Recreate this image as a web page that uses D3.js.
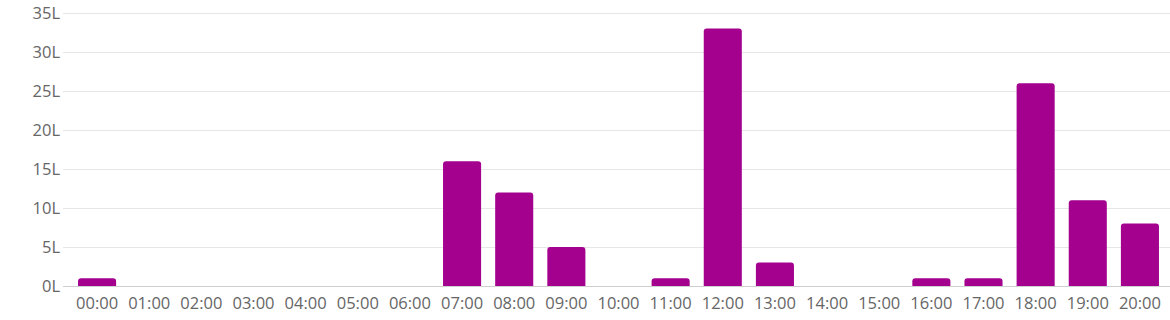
<!DOCTYPE html>
<html>
<head>
<meta charset="utf-8">
<script src="https://cdn.jsdelivr.net/npm/d3@7"></script>
<style>
  body { margin: 0; background: #fff; }
  .tick text { font-family: 'Open Sans', sans-serif; font-size: 16.5px; fill: #666; }
</style>
</head>
<body>
<div id="chart"></div>
<script>
const hours = ['00:00', '01:00', '02:00', '03:00', '04:00', '05:00', '06:00', '07:00', '08:00', '09:00', '10:00',
  '11:00', '12:00', '13:00', '14:00', '15:00', '16:00', '17:00', '18:00', '19:00', '20:00']
const litres = [1, 0, 0, 0, 0, 0, 0, 16, 12, 5, 0, 1, 33, 3, 0, 0, 1, 1, 26, 11, 8]
const yTicks = [0, 5, 10, 15, 20, 25, 30, 35]

const width = 1170
const height = 320
const gridLeft = 63
const plotTop = 13
const plotBottom = 286

const svg = d3.select('#chart')
  .append('svg')
  .attr('width', width)
  .attr('height', height)

const x = d3.scaleBand().domain(hours).range([71, 1166]).paddingInner(0.27).paddingOuter(0.135)
const y = d3.scaleLinear().domain([0, 35]).range([plotBottom, plotTop])

// grid lines
svg.append('g')
  .selectAll('line')
  .data(yTicks)
  .join('line')
  .attr('x1', gridLeft)
  .attr('x2', width)
  .attr('y1', d => y(d) + 0.5)
  .attr('y2', d => y(d) + 0.5)
  .attr('stroke', d => d === 0 ? '#cfcfcf' : '#e6e6e6')

const yAxis = svg.append('g')
  .attr('transform', `translate(${gridLeft - 3},0)`)
  .call(d3.axisLeft(y).tickValues(yTicks).tickSize(0).tickPadding(0).tickFormat(d => d + 'L'))
yAxis.select('.domain').remove()

// bars, rounded top corners
const r = 3
svg.append('g')
  .selectAll('path')
  .data(litres.map((v, i) => ({ hour: hours[i], v })).filter(d => d.v > 0))
  .join('path')
  .attr('fill', '#a3018e')
  .attr('d', d => {
    const x0 = x(d.hour), w = x.bandwidth(), y0 = y(d.v), yb = y(0)
    return `M${x0},${yb}V${y0 + r}Q${x0},${y0} ${x0 + r},${y0}H${x0 + w - r}Q${x0 + w},${y0} ${x0 + w},${y0 + r}V${yb}Z`
  })

const xAxis = svg.append('g')
  .attr('transform', `translate(0,${plotBottom})`)
  .call(d3.axisBottom(x).tickSize(0).tickPadding(11))
xAxis.select('.domain').remove()
</script>
</body>
</html>
